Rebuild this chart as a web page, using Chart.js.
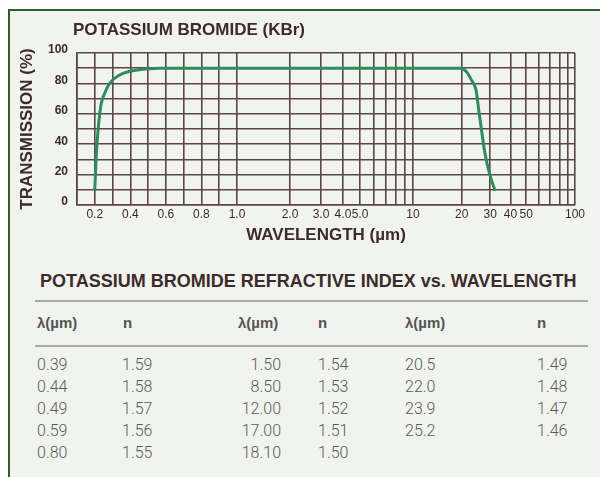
<!DOCTYPE html>
<html>
<head>
<meta charset="utf-8">
<script src="https://cdn.jsdelivr.net/npm/chart.js@4"></script>
<style>
html, body { margin: 0; padding: 0; background: #fff; }
#page { position: relative; width: 600px; height: 477px; overflow: hidden; background: #fff; font-family: "Liberation Sans", Arial, sans-serif; }
#panel { position: absolute; left: 8px; top: 9px; width: 600px; height: 480px; background: #f1f4ee; border-top: 2px solid #24602a; border-left: 2px solid #24602a; }
#plot { position: absolute; left: 0; top: 0; }
.ttl { position: absolute; font-weight: bold; color: #3d2b2b; white-space: nowrap; }
.rule { position: absolute; left: 35px; width: 553px; height: 2px; background: #aaa; }
.cell { position: absolute; white-space: nowrap; line-height: 20px; }
.head { font-weight: bold; color: #555; font-size: 15px; }
.val { font-family: Roboto, "Liberation Sans", sans-serif; font-weight: 300; color: #5a5a5a; font-size: 16px; }
</style>
</head>
<body>
<div id="page">
  <div id="panel"></div>
  <canvas id="plot" width="600" height="250"></canvas>
  <div class="ttl" style="left:73px; top:20px; font-size:17px; line-height:20px;">POTASSIUM BROMIDE (KBr)</div>
  <div class="ttl" style="left:40px; top:270px; font-size:18px; line-height:22px;">POTASSIUM BROMIDE REFRACTIVE INDEX vs. WAVELENGTH</div>
  <div class="rule" style="top:300px;"></div>
  <div class="rule" style="top:345px;"></div>
  <div id="table"></div>
</div>
<script>
// transmission curve (wavelength in µm, transmission in %)
const curveWavelength = [0.2, 0.21, 0.224, 0.237, 0.256, 0.283, 0.34, 0.4, 0.45, 0.56, 1.0, 5, 10, 19.5, 21.4, 23, 24.5, 25.3, 26.5, 27.8, 29.6, 32.1];
const curveTransmission = [10, 36, 56, 67, 73.5, 80, 85.5, 88, 89, 90, 90, 90, 90, 90, 87.7, 82, 75.6, 64.7, 49, 34, 21, 9.4];

// x axis grid and labels
const xGridValues = [0.1, 0.2, 0.3, 0.4, 0.5, 0.6, 0.7, 0.8, 0.9, 1, 2, 3, 4, 5, 6, 7, 8, 9, 10, 20, 30, 40, 50, 60, 70, 80, 90, 100];
const xTickValues = [0.2, 0.4, 0.6, 0.8, 1, 2, 3, 4, 5, 10, 20, 30, 40, 50, 100];
const xTickLabels = ['0.2', '0.4', '0.6', '0.8', '1.0', '2.0', '3.0', '4.0', '5.0', '10', '20', '30', '40', '50', '100'];
const yTickLabels = [0, 20, 40, 60, 80, 100];

// refractive index table
const waveCol1 = [0.39, 0.44, 0.49, 0.59, 0.80];
const indexCol1 = [1.59, 1.58, 1.57, 1.56, 1.55];
const waveCol2 = [1.50, 8.50, 12.00, 17.00, 18.10];
const indexCol2 = [1.54, 1.53, 1.52, 1.51, 1.50];
const waveCol3 = [20.5, 22.0, 23.9, 25.2];
const indexCol3 = [1.49, 1.48, 1.47, 1.46];

const gridColor = '#5b4646';
const textColor = '#3d2b2b';

// linear from 0.1 to 1, then one log decade to 10 and another to 100
class BrokenLogScale extends Chart.LinearScale {
    static id = 'brokenlog';
    determineDataLimits() {
        this.min = 0.1;
        this.max = 100;
    }
    buildTicks() {
        return xGridValues.map(v => ({ value: v }));
    }
    toFrac(v) {
        const f1 = 160 / 498, f2 = 336 / 498;
        if (v <= 1) return (v - 0.1) / 0.9 * f1;
        if (v <= 10) return f1 + Math.log10(v) * (f2 - f1);
        return f2 + (Math.log10(v) - 1) * (1 - f2);
    }
    getPixelForValue(v) {
        return this.getPixelForDecimal(this.toFrac(v));
    }
    getValueForPixel(p) {
        const d = this.getDecimalForPixel(p);
        const f1 = 160 / 498, f2 = 336 / 498;
        if (d <= f1) return 0.1 + d / f1 * 0.9;
        if (d <= f2) return Math.pow(10, (d - f1) / (f2 - f1));
        return Math.pow(10, 1 + (d - f2) / (1 - f2));
    }
}
Chart.register(BrokenLogScale);

Chart.defaults.font.family = '"Liberation Sans", Arial, sans-serif';

const ctx = document.getElementById('plot').getContext('2d');
new Chart(ctx, {
    type: 'line',
    data: {
        datasets: [{
            data: curveWavelength.map((w, i) => ({ x: w, y: curveTransmission[i] })),
            borderColor: '#2e8c5e',
            borderWidth: 3,
            pointRadius: 0,
            cubicInterpolationMode: 'monotone',
            fill: false
        }]
    },
    options: {
        responsive: false,
        animation: false,
        events: [],
        layout: { padding: { left: 0, right: 25, top: 53, bottom: 0 } },
        plugins: { legend: { display: false }, tooltip: { enabled: false } },
        scales: {
            x: {
                type: 'brokenlog',
                position: 'bottom',
                grid: { color: gridColor, lineWidth: 1.6, drawTicks: false },
                border: { color: gridColor, width: 1.6 },
                ticks: {
                    autoSkip: false,
                    maxRotation: 0,
                    padding: 2,
                    color: textColor,
                    font: { size: 12 },
                    callback: function (v) {
                        const i = xTickValues.findIndex(t => Math.abs(t - v) < 1e-9);
                        return i >= 0 ? xTickLabels[i] : '';
                    }
                },
                title: {
                    display: true,
                    text: 'WAVELENGTH (µm)',
                    color: textColor,
                    font: { size: 17, weight: 'bold' },
                    padding: { top: 0, bottom: 4 }
                },
                afterFit: s => { s.height = 45; }
            },
            y: {
                min: 0,
                max: 100,
                grid: { color: gridColor, lineWidth: 1.6, drawTicks: false },
                border: { color: gridColor, width: 1.6 },
                ticks: {
                    autoSkip: false,
                    stepSize: 10,
                    padding: 9,
                    labelOffset: -3,
                    color: textColor,
                    font: { size: 12, weight: 'bold' },
                    callback: v => yTickLabels.includes(v) ? v : ''
                },
                title: {
                    display: true,
                    text: 'TRANSMISSION (%)',
                    color: textColor,
                    font: { size: 17, weight: 'bold' },
                    padding: { top: 17, bottom: 0 }
                },
                afterFit: s => { s.width = 77; }
            }
        }
    }
});

// refractive index table
const table = document.getElementById('table');
function addCell(text, x, y, cls, right) {
    const d = document.createElement('div');
    d.className = 'cell ' + cls;
    d.textContent = text;
    d.style.top = (y - 10) + 'px';
    if (right) {
        d.style.right = (600 - x) + 'px';
    } else {
        d.style.left = x + 'px';
    }
    table.appendChild(d);
}
const headY = 323;
[[37, 'λ(µm)'], [123, 'n'], [238, 'λ(µm)'], [318, 'n'], [405, 'λ(µm)'], [537, 'n']].forEach(h => addCell(h[1], h[0], headY, 'head'));
const rowY = [365, 387, 409, 431, 453];
waveCol1.forEach((w, i) => {
    addCell(w.toFixed(2), 37, rowY[i], 'val');
    addCell(indexCol1[i].toFixed(2), 122, rowY[i], 'val');
});
waveCol2.forEach((w, i) => {
    addCell(w.toFixed(2), 281, rowY[i], 'val', true);
    addCell(indexCol2[i].toFixed(2), 318, rowY[i], 'val');
});
waveCol3.forEach((w, i) => {
    addCell(w.toFixed(1), 405, rowY[i], 'val');
    addCell(indexCol3[i].toFixed(2), 537, rowY[i], 'val');
});
</script>
</body>
</html>
